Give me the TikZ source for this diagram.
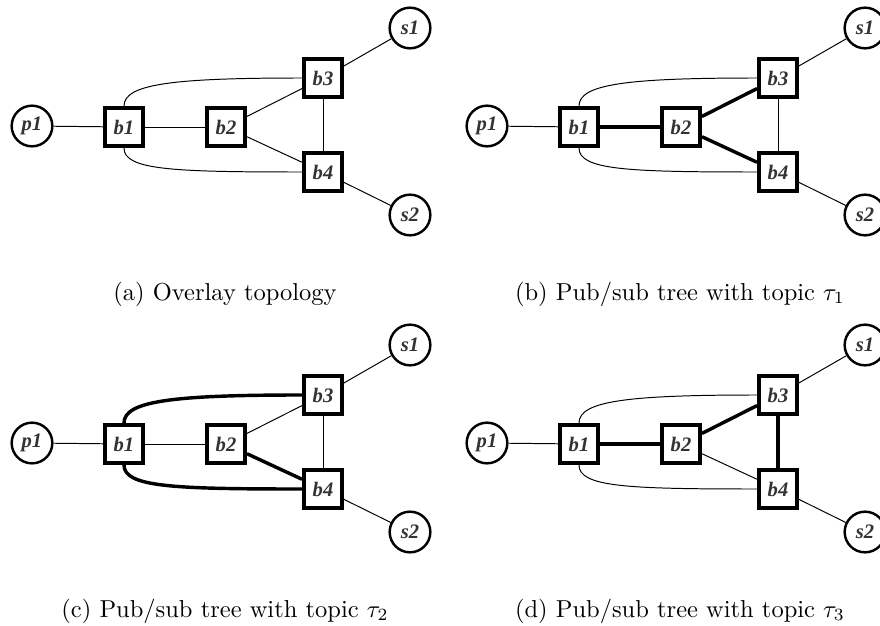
\documentclass[tikz,border=0pt]{standalone}
\usepackage{fontspec}
\newfontfamily\labelfont{Liberation Serif}

\tikzset{
  broker/.style={draw, rectangle, line width=1.6pt, minimum size=15.5pt,
    inner sep=0pt, fill=white, text=black!80,
    font=\labelfont\bfseries\itshape\fontsize{8.4}{9}\selectfont},
  client/.style={draw, circle, line width=1pt, minimum size=16.6pt,
    inner sep=0pt, fill=white, text=black!80,
    font=\labelfont\bfseries\itshape\fontsize{8.4}{9}\selectfont},
  link/.style={line width=0.4pt},
  tree/.style={line width=1.4pt},
  caption/.style={anchor=base, inner sep=0pt, font=\fontsize{10}{12}\selectfont},
  % per-edge styles, overridden in a panel to highlight its tree
  e-p1b1/.style={}, e-b1b2/.style={}, e-b2b3/.style={}, e-b2b4/.style={},
  e-b3b4/.style={}, e-b3s1/.style={}, e-b4s2/.style={},
  e-b1b3/.style={}, e-b1b4/.style={},
}

% One copy of the overlay network; #1 is the prefix of its node names
\newcommand\overlaynet[1]{%
  \node[client] (#1-p1) at (32,126)  {p1};
  \node[broker] (#1-b1) at (124,127) {b1};
  \node[broker] (#1-b2) at (226,127) {b2};
  \node[broker] (#1-b3) at (323,78)  {b3};
  \node[broker] (#1-b4) at (323,172) {b4};
  \node[client] (#1-s1) at (410,28)  {s1};
  \node[client] (#1-s2) at (410,215) {s2};
  \draw[link,e-p1b1] (#1-p1) -- (#1-b1);
  \draw[link,e-b1b2] (#1-b1) -- (#1-b2);
  \draw[link,e-b2b3] (#1-b2) -- (#1-b3);
  \draw[link,e-b2b4] (#1-b2) -- (#1-b4);
  \draw[link,e-b3b4] (#1-b3) -- (#1-b4);
  \draw[link,e-b3s1] (#1-b3) -- (#1-s1);
  \draw[link,e-b4s2] (#1-b4) -- (#1-s2);
  \draw[link,e-b1b3] (#1-b1.north) .. controls +(0,-22) and +(-130,0) .. (#1-b3.west);
  \draw[link,e-b1b4] (#1-b1.south) .. controls +(0,22) and +(-130,0) .. (#1-b4.west);
}

\begin{document}
\begin{tikzpicture}[x=0.4082pt, y=-0.4082pt]
  \useasboundingbox (0,0) rectangle (880,626);

  % (a) overlay topology
  \begin{scope}
    \overlaynet{a}
  \end{scope}
  \node[caption] (cap-a) at (225,300) {(a) Overlay topology};

  % (b) tree for topic tau_1
  \begin{scope}[xshift=455*0.4082pt,
      e-b1b2/.style=tree, e-b2b3/.style=tree, e-b2b4/.style=tree]
    \overlaynet{b}
  \end{scope}
  \node[caption] (cap-b) at (680,300) {(b) Pub/sub tree with topic $\tau_1$};

  % (c) tree for topic tau_2
  \begin{scope}[yshift=-317*0.4082pt,
      e-b1b3/.style=tree, e-b1b4/.style=tree, e-b2b4/.style=tree]
    \overlaynet{c}
  \end{scope}
  \node[caption] (cap-c) at (225,617) {(c) Pub/sub tree with topic $\tau_2$};

  % (d) tree for topic tau_3
  \begin{scope}[xshift=455*0.4082pt, yshift=-317*0.4082pt,
      e-b1b2/.style=tree, e-b2b3/.style=tree, e-b3b4/.style=tree]
    \overlaynet{d}
  \end{scope}
  \node[caption] (cap-d) at (680,617) {(d) Pub/sub tree with topic $\tau_3$};
\end{tikzpicture}
\end{document}
